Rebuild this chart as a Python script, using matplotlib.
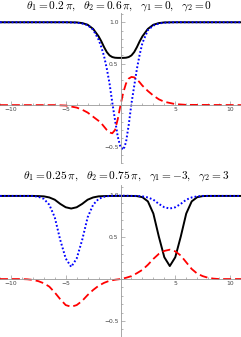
# import libraries
import matplotlib
matplotlib.use("Agg")
import matplotlib.pyplot as plt
from matplotlib.ticker import MultipleLocator, FixedLocator

plt.rcParams['mathtext.fontset'] = 'cm'

# upper panel: theta1 = 0.2 pi, theta2 = 0.6 pi, gamma1 = 0, gamma2 = 0
top_x = [-11, -6, -5, -4, -3.5, -3, -2.5, -2, -1.75, -1.5, -1.25, -1, -0.75, -0.5,
         -0.25, 0, 0.25, 0.5, 0.75, 1, 1.25, 1.5, 1.75, 2, 2.5, 3, 3.5, 4, 5, 6, 11]
top_black = [1, 1, 1, 0.998, 0.99, 0.97, 0.92, 0.83, 0.77, 0.70, 0.64, 0.60, 0.58, 0.572,
             0.57, 0.57, 0.57, 0.572, 0.58, 0.60, 0.64, 0.70, 0.77, 0.83, 0.92, 0.97, 0.99,
             0.998, 1, 1, 1]
top_blue = [1, 1, 1, 0.995, 0.985, 0.965, 0.91, 0.79, 0.70, 0.59, 0.44, 0.26, 0.03, -0.18,
            -0.38, -0.51, -0.54, -0.45, -0.24, 0.02, 0.23, 0.44, 0.61, 0.75, 0.905, 0.96,
            0.985, 0.995, 1, 1, 1]
top_red = [0, 0, -0.005, -0.03, -0.055, -0.09, -0.14, -0.19, -0.22, -0.26, -0.30, -0.33,
           -0.34, -0.30, -0.17, 0.0, 0.15, 0.26, 0.32, 0.34, 0.335, 0.31, 0.275, 0.235,
           0.17, 0.115, 0.07, 0.04, 0.012, 0.003, 0]

# lower panel: theta1 = 0.25 pi, theta2 = 0.75 pi, gamma1 = -3, gamma2 = 3
bot_x = [-11, -9, -8.5, -8, -7.5, -7, -6.5, -6, -5.5, -5, -4.5, -4, -3.5, -3, -2.5, -2,
         -1.5, -1, -0.5, 0, 0.5, 1, 1.5, 2, 2.5, 3, 3.5, 4, 4.5, 5, 5.5, 6, 6.5, 7, 7.5,
         8, 8.5, 9, 11]
bot_black = [0.99, 0.99, 0.99, 0.99, 0.988, 0.985, 0.972, 0.945, 0.895, 0.855, 0.84, 0.855,
             0.895, 0.945, 0.972, 0.985, 0.988, 0.99, 0.99, 0.99, 0.99, 0.99, 0.988, 0.975,
             0.925, 0.78, 0.505, 0.26, 0.155, 0.26, 0.505, 0.78, 0.925, 0.975, 0.988, 0.99,
             0.99, 0.99, 0.99]
bot_blue = [0.99, 0.99, 0.99, 0.99, 0.98, 0.955, 0.885, 0.735, 0.465, 0.245, 0.145, 0.245,
            0.465, 0.735, 0.885, 0.955, 0.98, 0.99, 0.992, 0.993, 0.992, 0.99, 0.99, 0.985,
            0.972, 0.945, 0.895, 0.855, 0.84, 0.855, 0.895, 0.945, 0.972, 0.985, 0.99, 0.99,
            0.99, 0.99, 0.99]
bot_red = [0, 0, -0.003, -0.01, -0.025, -0.05, -0.09, -0.16, -0.24, -0.31, -0.33, -0.31,
           -0.26, -0.19, -0.13, -0.08, -0.045, -0.02, -0.008, 0, 0.015, 0.035, 0.07, 0.11,
           0.17, 0.24, 0.30, 0.335, 0.35, 0.33, 0.28, 0.20, 0.12, 0.065, 0.035, 0.015,
           0.005, 0, 0]

titles = [r'$\theta_1 = 0.2\,\pi,\ \ \theta_2 = 0.6\,\pi,\ \ \gamma_1 = 0,\ \ \gamma_2 = 0$',
          r'$\theta_1 = 0.25\,\pi,\ \ \theta_2 = 0.75\,\pi,\ \ \gamma_1 = -3,\ \ \gamma_2 = 3$']

x_ticks = [-10, -5, 5, 10]
y_ticks = [-0.5, 0.5, 1.0]

fig = plt.figure(figsize=(2.41, 3.37), dpi=100)
ax1 = fig.add_axes([0, 0.516, 1, 0.445])
ax2 = fig.add_axes([0, 0, 1, 0.451])


# mathematica-like axes through the origin
def style_axes(ax, ylim):
    ax.set_xlim(-11, 11)
    ax.set_ylim(*ylim)
    for s in ['top', 'right']:
        ax.spines[s].set_visible(False)
    for s in ['left', 'bottom']:
        ax.spines[s].set_position(('data', 0))
        ax.spines[s].set_color('#999999')
        ax.spines[s].set_linewidth(0.6)
    ax.xaxis.set_major_locator(FixedLocator(x_ticks))
    ax.xaxis.set_minor_locator(MultipleLocator(1))
    ax.yaxis.set_major_locator(FixedLocator(y_ticks))
    ax.yaxis.set_minor_locator(MultipleLocator(0.1))
    ax.set_xticklabels(['−10', '−5', '5', '10'])
    ax.set_yticklabels(['−0.5', '0.5', '1.0'])
    ax.tick_params(which='both', direction='in', color='#999999', width=0.5,
                   labelsize=4.3, labelcolor='#444444', pad=1.5)
    ax.tick_params(which='major', length=3)
    ax.tick_params(which='minor', length=1.6)
    ax.patch.set_alpha(0)


for ax, x, bk, bl, rd, ylim in [(ax1, top_x, top_black, top_blue, top_red, (-0.70, 1.11)),
                                (ax2, bot_x, bot_black, bot_blue, bot_red, (-0.69, 1.12))]:
    style_axes(ax, ylim)
    ax.plot(x, bk, color='black', lw=1.4, solid_capstyle='butt')
    ax.plot(x, bl, color='blue', lw=1.4, linestyle=(0, (0.9, 1.1)))
    ax.plot(x, rd, color='red', lw=1.3, linestyle=(0, (4.4, 2.2)))

fig.text(0.495, 0.982, titles[0], ha='center', va='center', fontsize=8.2)
fig.text(0.525, 0.478, titles[1], ha='center', va='center', fontsize=8.2)

fig.savefig('out.png', dpi=100)
